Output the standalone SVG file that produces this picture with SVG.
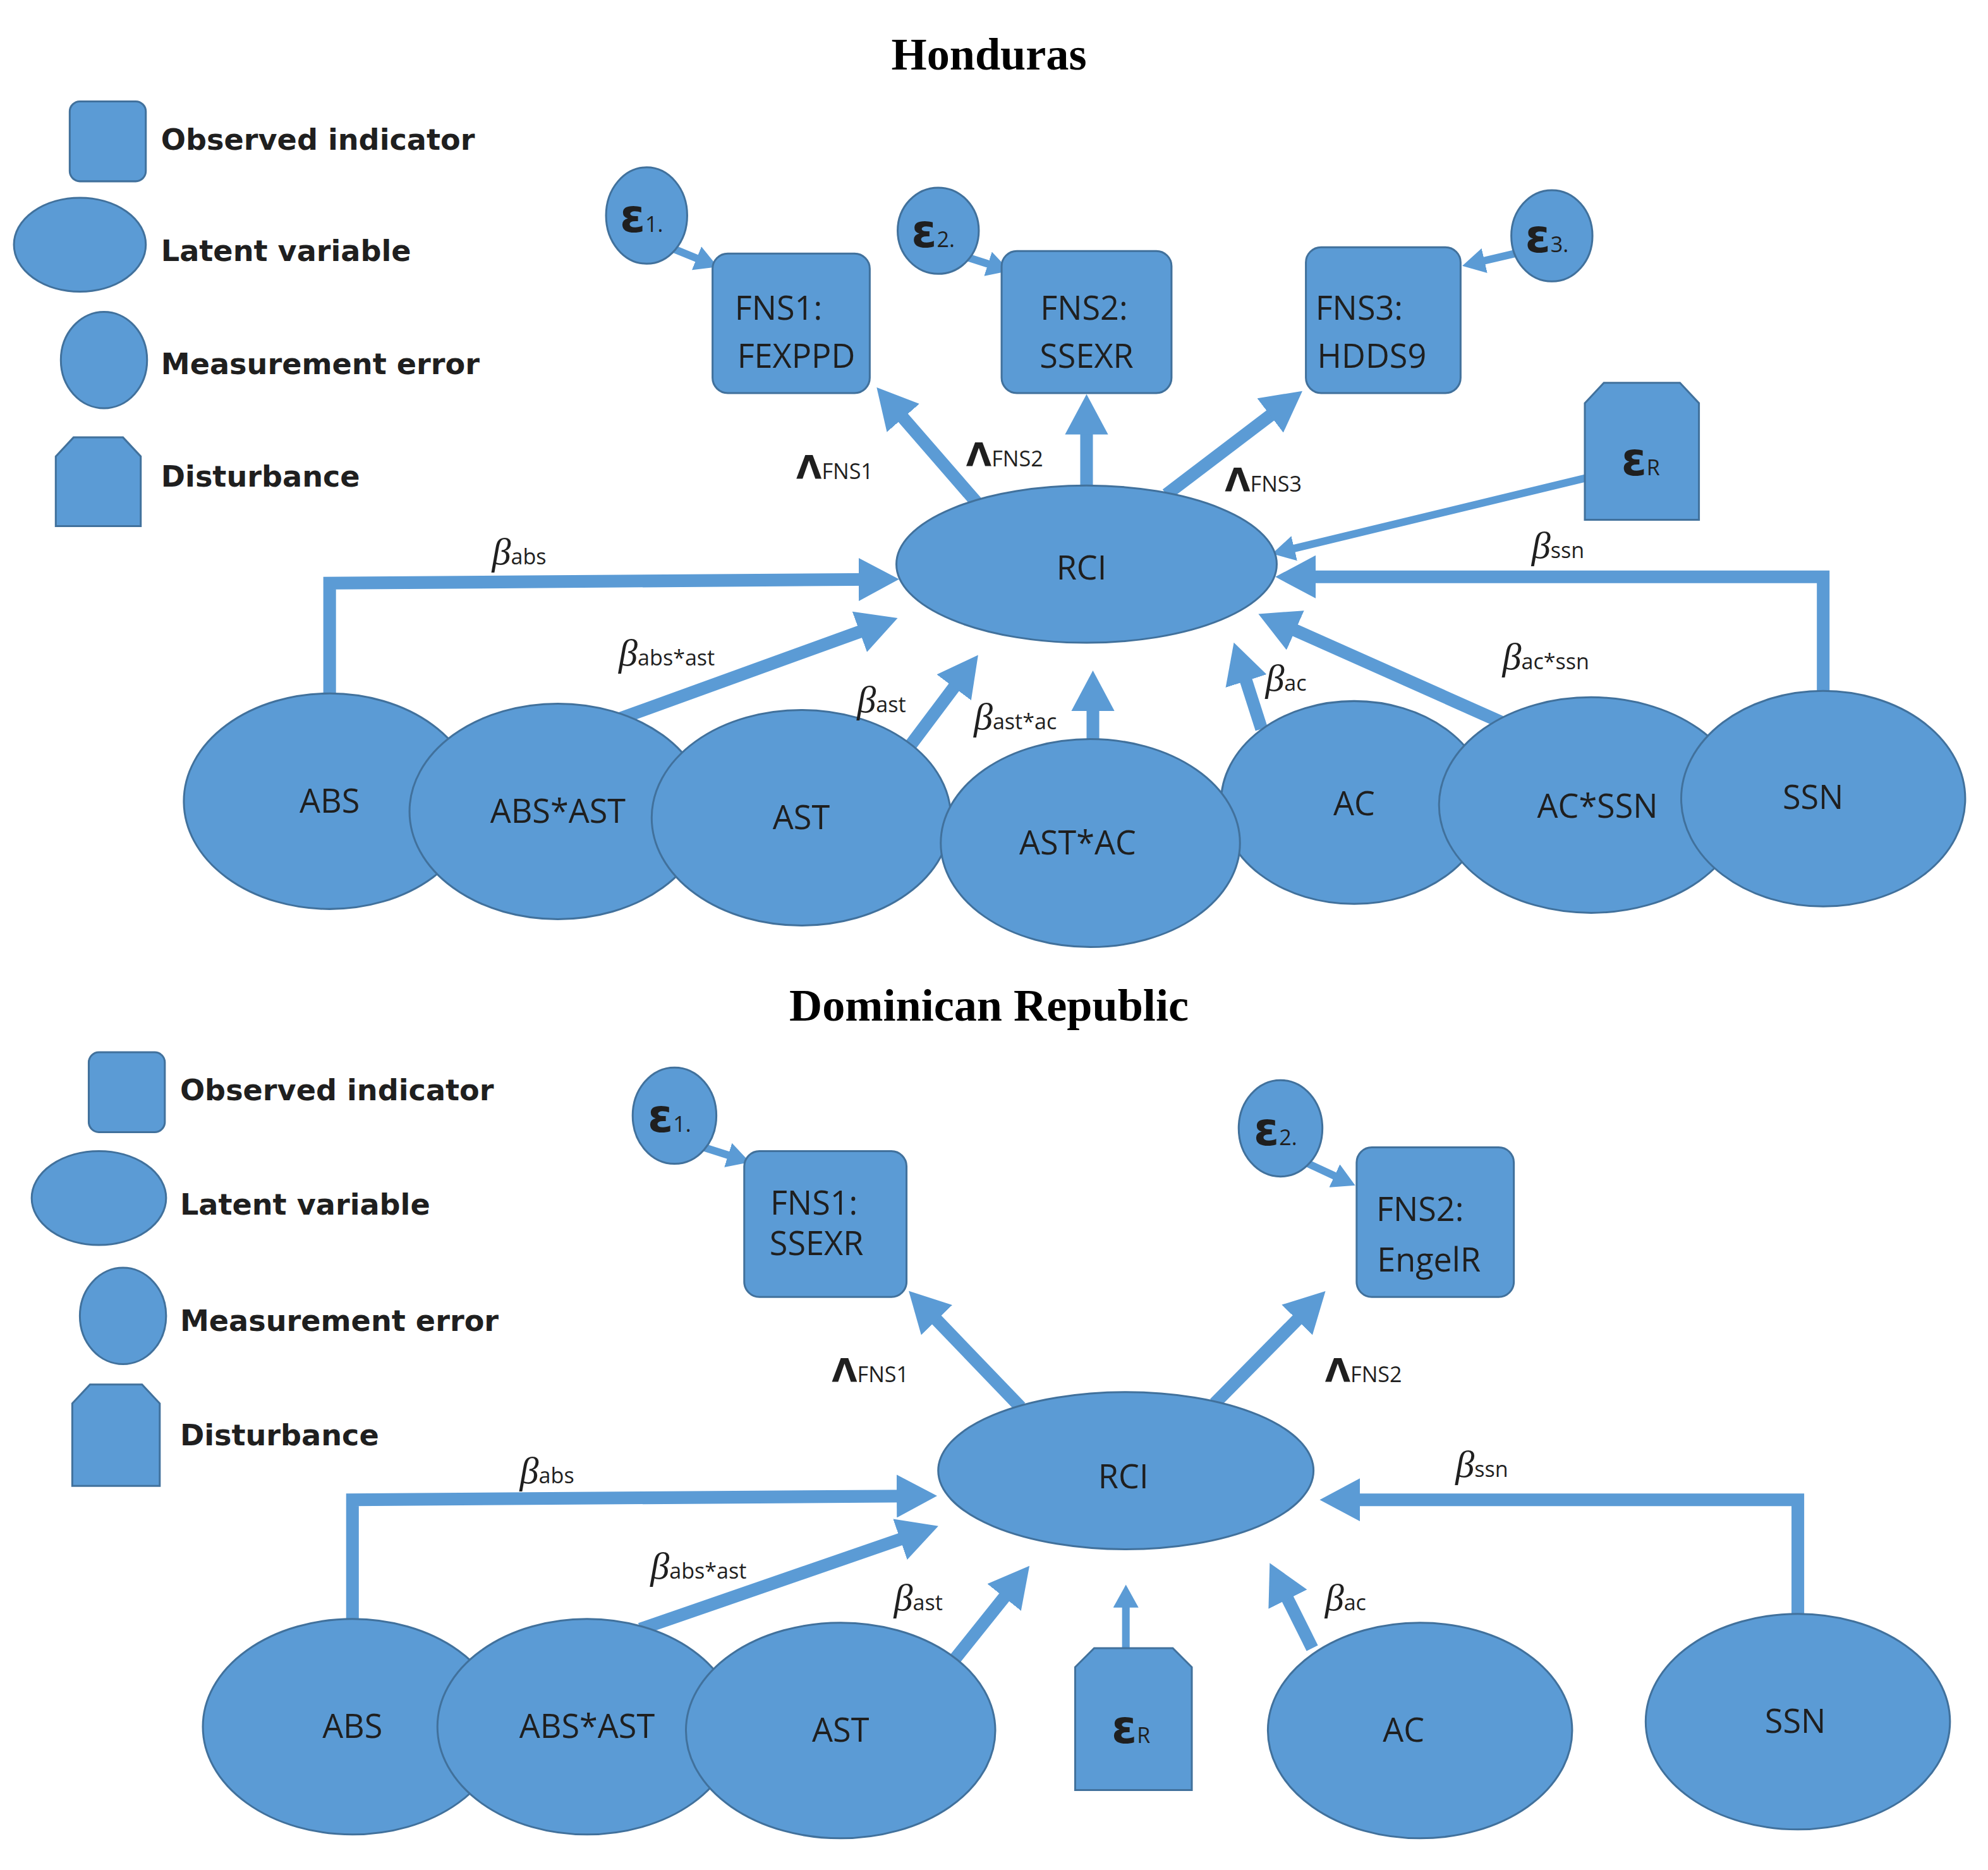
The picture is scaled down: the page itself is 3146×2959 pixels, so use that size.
<svg xmlns="http://www.w3.org/2000/svg" width="3146" height="2959" viewBox="0 0 3146 2959">
<defs>
<style>
.n{fill:#5b9bd5;stroke:#41719c;stroke-width:1.5}
.t{font-family:"Open Sans","Noto Sans",sans-serif;font-size:26px;fill:#1f1f1f;text-anchor:middle}
.lg{font-family:"DejaVu Sans",sans-serif;font-weight:bold;font-size:23px;fill:#1f1f1f}
.ti{font-family:"Liberation Serif",serif;font-weight:bold;font-size:36px;fill:#000;text-anchor:middle}
.e{font-family:"DejaVu Sans",sans-serif;font-weight:bold;font-size:36px;fill:#1f1f1f;text-anchor:middle}
.b{font-family:"Liberation Serif",serif;font-style:italic;font-size:30px;fill:#1f1f1f}
.s{font-family:"Open Sans","Noto Sans",sans-serif;font-style:normal;font-size:17px}
.L{font-family:"DejaVu Sans",sans-serif;font-weight:bold;font-size:26px;fill:#1f1f1f}
.a{fill:none;stroke:#5b9bd5;stroke-width:10;marker-end:url(#h)}
.a2{fill:none;stroke:#5b9bd5;stroke-width:6;marker-end:url(#h2)}
</style>
<marker id="h" markerUnits="userSpaceOnUse" markerWidth="34" markerHeight="34" refX="12" refY="16" orient="auto" viewBox="0 0 32 32"><path d="M0,0 L30,16 L0,32 z" fill="#5b9bd5"/></marker>
<marker id="h2" markerUnits="userSpaceOnUse" markerWidth="20" markerHeight="20" refX="6" refY="10" orient="auto" viewBox="0 0 20 20"><path d="M0,0 L18,10 L0,20 z" fill="#5b9bd5"/></marker>
</defs>
<rect width="3146" height="2959" fill="#fff"/>
<g transform="scale(2.0064,2.0061)">
<text class="ti" x="780" y="55">Honduras</text>
<text class="ti" x="780" y="805">Dominican Republic</text>

<g id="legend1">
<rect class="n" x="55" y="80" width="60" height="63" rx="8"/><text class="lg" x="127" y="118">Observed indicator</text>
<ellipse class="n" cx="63" cy="193" rx="52" ry="37"/><text class="lg" x="127" y="206">Latent variable</text>
<ellipse class="n" cx="82" cy="284" rx="34" ry="38"/><text class="lg" x="127" y="295">Measurement  error</text>
<path class="n" d="M44,360 L58,345 L97,345 L111,360 L111,415 L44,415 Z"/><text class="lg" x="127" y="384">Disturbance</text>
</g>
<g id="legend2">
<rect class="n" x="70" y="830" width="60" height="63" rx="8"/><text class="lg" x="142" y="868">Observed indicator</text>
<ellipse class="n" cx="78" cy="945" rx="53" ry="37"/><text class="lg" x="142" y="958">Latent variable</text>
<ellipse class="n" cx="97" cy="1038" rx="34" ry="38"/><text class="lg" x="142" y="1050">Measurement  error</text>
<path class="n" d="M57,1107 L71,1092 L112,1092 L126,1107 L126,1172 L57,1172 Z"/><text class="lg" x="142" y="1140">Disturbance</text>
</g>

<g id="connectors">
<polyline class="a" points="260,550 260,460 690,457"/>
<line class="a" x1="480" y1="570" x2="690" y2="494"/>
<line class="a" x1="715" y1="592" x2="760" y2="532"/>
<line class="a" x1="862" y1="588" x2="862" y2="548"/>
<line class="a" x1="995" y1="575" x2="979" y2="525"/>
<line class="a" x1="1185" y1="570" x2="1010" y2="492"/>
<polyline class="a" points="1438,548 1438,455 1025,455"/>
<line class="a2" x1="1255" y1="376" x2="1015" y2="434"/>
<line class="a" x1="770" y1="396" x2="704" y2="320"/>
<line class="a" x1="857" y1="383" x2="857" y2="330"/>
<line class="a" x1="920" y1="390" x2="1012" y2="320"/>
<line class="a2" x1="528" y1="195" x2="555" y2="206"/>
<line class="a2" x1="760" y1="202" x2="785" y2="210"/>
<line class="a2" x1="1195" y1="200" x2="1165" y2="207"/>

<polyline class="a" points="278,1278 278,1183 720,1180"/>
<line class="a" x1="505" y1="1285" x2="722" y2="1210"/>
<line class="a" x1="752" y1="1310" x2="800" y2="1250"/>
<line class="a2" x1="888" y1="1300" x2="888" y2="1262"/>
<line class="a" x1="1035" y1="1300" x2="1010" y2="1250"/>
<polyline class="a" points="1418,1277 1418,1183 1060,1183"/>
<line class="a" x1="805" y1="1110" x2="730" y2="1032"/>
<line class="a" x1="958" y1="1107" x2="1032" y2="1032"/>
<line class="a2" x1="555" y1="905" x2="580" y2="913"/>
<line class="a2" x1="1030" y1="917" x2="1058" y2="930"/>
</g>

<g id="top-nodes">
<ellipse class="n" cx="510" cy="170" rx="32" ry="38"/><text class="e" x="506" y="183">ε<tspan class="s" font-weight="normal">1.</tspan></text>
<ellipse class="n" cx="740" cy="182" rx="32" ry="34"/><text class="e" x="736" y="195">ε<tspan class="s" font-weight="normal">2.</tspan></text>
<ellipse class="n" cx="1224" cy="186" rx="32" ry="36"/><text class="e" x="1220" y="199">ε<tspan class="s" font-weight="normal">3.</tspan></text>
<g id="FNS1h"><rect class="n" x="562" y="200" width="124" height="110" rx="12"/><text class="t" x="614" y="252">FNS1:</text><text class="t" x="628" y="290">FEXPPD</text></g>
<g id="FNS2h"><rect class="n" x="790" y="198" width="134" height="112" rx="12"/><text class="t" x="855" y="252">FNS2:</text><text class="t" x="857" y="290">SSEXR</text></g>
<g id="FNS3h"><rect class="n" x="1030" y="195" width="122" height="115" rx="12"/><text class="t" x="1072" y="252">FNS3:</text><text class="t" x="1082" y="290">HDDS9</text></g>
<g id="eRh"><path class="n" d="M1250,318 L1265,302 L1325,302 L1340,318 L1340,410 L1250,410 Z"/><text class="e" x="1294" y="375">ε<tspan class="s" font-weight="normal">R</tspan></text></g>
<g id="RCIh"><ellipse class="n" cx="857" cy="445" rx="150" ry="62"/><text class="t" x="853" y="457" font-size="40">RCI</text></g>
<g id="ABSh"><ellipse class="n" cx="260" cy="632" rx="115" ry="85"/><text class="t" x="260" y="641">ABS</text></g>
<g id="ABSASTh"><ellipse class="n" cx="440" cy="640" rx="117" ry="85"/><text class="t" x="440" y="649">ABS*AST</text></g>
<g id="ASTh"><ellipse class="n" cx="632" cy="645" rx="118" ry="85"/><text class="t" x="632" y="654">AST</text></g>
<g id="ACh"><ellipse class="n" cx="1068" cy="633" rx="105" ry="80"/><text class="t" x="1068" y="643">AC</text></g>
<g id="ACSSNh"><ellipse class="n" cx="1255" cy="635" rx="120" ry="85"/><text class="t" x="1260" y="645">AC*SSN</text></g>
<g id="SSNh"><ellipse class="n" cx="1438" cy="630" rx="112" ry="85"/><text class="t" x="1430" y="638">SSN</text></g>
<g id="ASTACh"><ellipse class="n" cx="860" cy="665" rx="118" ry="82"/><text class="t" x="850" y="674">AST*AC</text></g>
</g>

<g id="top-labels">
<text class="L" x="628" y="378">Λ<tspan class="s" font-weight="normal">FNS1</tspan></text>
<text class="L" x="762" y="368">Λ<tspan class="s" font-weight="normal">FNS2</tspan></text>
<text class="L" x="966" y="388">Λ<tspan class="s" font-weight="normal">FNS3</tspan></text>
<text class="b" x="388" y="445">β<tspan class="s">abs</tspan></text>
<text class="b" x="488" y="525">β<tspan class="s">abs*ast</tspan></text>
<text class="b" x="676" y="562">β<tspan class="s">ast</tspan></text>
<text class="b" x="768" y="575">β<tspan class="s">ast*ac</tspan></text>
<text class="b" x="998" y="545">β<tspan class="s">ac</tspan></text>
<text class="b" x="1185" y="528">β<tspan class="s">ac*ssn</tspan></text>
<text class="b" x="1208" y="440">β<tspan class="s">ssn</tspan></text>
</g>

<g id="bottom-nodes">
<ellipse class="n" cx="532" cy="880" rx="33" ry="38"/><text class="e" x="528" y="893">ε<tspan class="s" font-weight="normal">1.</tspan></text>
<ellipse class="n" cx="1010" cy="890" rx="33" ry="38"/><text class="e" x="1006" y="903">ε<tspan class="s" font-weight="normal">2.</tspan></text>
<g id="FNS1d"><rect class="n" x="587" y="908" width="128" height="115" rx="12"/><text class="t" x="642" y="958">FNS1:</text><text class="t" x="644" y="990">SSEXR</text></g>
<g id="FNS2d"><rect class="n" x="1070" y="905" width="124" height="118" rx="12"/><text class="t" x="1120" y="963">FNS2:</text><text class="t" x="1127" y="1003">EngelR</text></g>
<g id="RCId"><ellipse class="n" cx="888" cy="1160" rx="148" ry="62"/><text class="t" x="886" y="1174" font-size="40">RCI</text></g>
<g id="ABSd"><ellipse class="n" cx="278" cy="1362" rx="118" ry="85"/><text class="t" x="278" y="1371">ABS</text></g>
<g id="ABSASTd"><ellipse class="n" cx="463" cy="1362" rx="118" ry="85"/><text class="t" x="463" y="1371">ABS*AST</text></g>
<g id="ASTd"><ellipse class="n" cx="663" cy="1365" rx="122" ry="85"/><text class="t" x="663" y="1374">AST</text></g>
<g id="eRd"><path class="n" d="M848,1315 L863,1300 L925,1300 L940,1315 L940,1412 L848,1412 Z"/><text class="e" x="892" y="1375">ε<tspan class="s" font-weight="normal">R</tspan></text></g>
<g id="ACd"><ellipse class="n" cx="1120" cy="1365" rx="120" ry="85"/><text class="t" x="1107" y="1374">AC</text></g>
<g id="SSNd"><ellipse class="n" cx="1418" cy="1358" rx="120" ry="85"/><text class="t" x="1416" y="1367">SSN</text></g>
</g>

<g id="bottom-labels">
<text class="L" x="656" y="1090">Λ<tspan class="s" font-weight="normal">FNS1</tspan></text>
<text class="L" x="1045" y="1090">Λ<tspan class="s" font-weight="normal">FNS2</tspan></text>
<text class="b" x="410" y="1170">β<tspan class="s">abs</tspan></text>
<text class="b" x="513" y="1245">β<tspan class="s">abs*ast</tspan></text>
<text class="b" x="705" y="1270">β<tspan class="s">ast</tspan></text>
<text class="b" x="1045" y="1270">β<tspan class="s">ac</tspan></text>
<text class="b" x="1148" y="1165">β<tspan class="s">ssn</tspan></text>
</g>
</g>
</svg>
